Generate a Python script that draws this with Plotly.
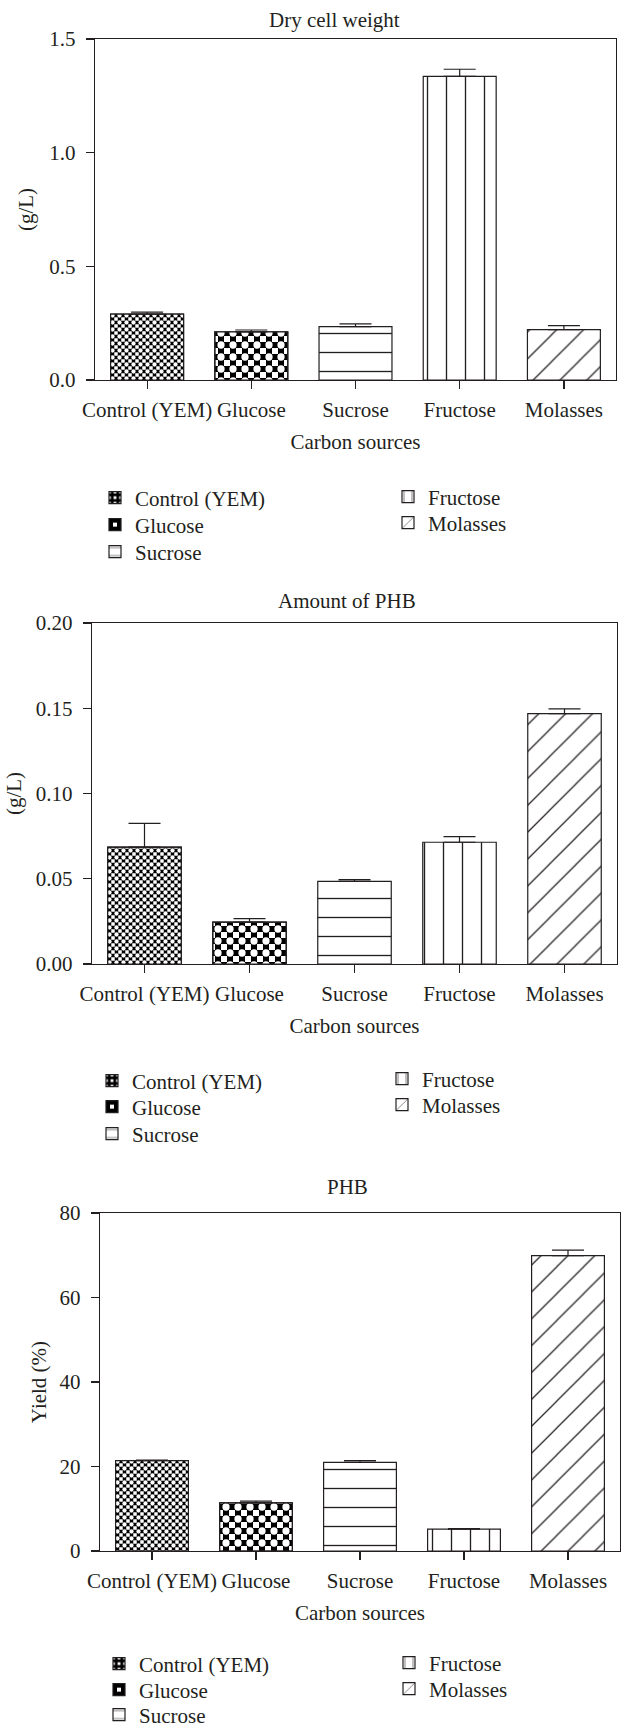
import plotly.graph_objects as go

# ---------------- data ----------------
categories = ["Control (YEM)", "Glucose", "Sucrose", "Fructose", "Molasses"]

dcw_values = [0.290, 0.212, 0.235, 1.336, 0.222]
dcw_errors = [0.009, 0.008, 0.012, 0.031, 0.017]

phb_amount_values = [0.0686, 0.0246, 0.0485, 0.0714, 0.1468]
phb_amount_errors = [0.0139, 0.0020, 0.0010, 0.0033, 0.0028]

phb_yield_values = [21.4, 11.4, 21.0, 5.2, 69.9]
phb_yield_errors = [0.1, 0.4, 0.4, 0.1, 1.3]

panel_titles = ["Dry cell weight", "Amount of PHB", "PHB"]
y_titles = ["(g/L)", "(g/L)", "Yield (%)"]
x_title = "Carbon sources"
y_ranges = [[0, 1.5], [0, 0.20], [0, 80]]
y_dticks = [0.5, 0.05, 20]
y_formats = [".1f", ".2f", ".0f"]

# ---------------- styling ----------------
W, H = 621, 1728
FONT = "Liberation Serif, Times New Roman, serif"
TXT = "#231f20"
EDGE = "#231f20"
FS = 21
LFS = 21

# pixel geometry of the three plot frames (left, right, top, bottom)
frames = [(95, 616, 39, 380), (92, 617, 623, 964), (100, 620, 1213, 1551)]
title_pos = [(335, 20), (347, 601), (347, 1187)]
y_title_standoff = [10, 8, 7]
# legend layout per panel: column left edges and row centres (px)
legend_cols = [(95, 388), (92, 382), (99, 389)]
legend_rows = [((498, 525, 552), (497, 523)),
               ((1081, 1107, 1134), (1079, 1105)),
               ((1664, 1690, 1715), (1663, 1689))]

# pattern per category: ("checker", tile) or (shape, size, solidity)
patterns = [("checker", 7), ("checker", 12), ("-", 19, 0.07), ("|", 19, 0.07), ("/", 19, 0.065)]


def px_x(p):
    return p / W


def px_y(p):
    return 1 - p / H


panels = [(dcw_values, dcw_errors), (phb_amount_values, phb_amount_errors),
          (phb_yield_values, phb_yield_errors)]

fig = go.Figure()
BAR_W = 0.70

for p, (vals, errs) in enumerate(panels):
    xa = "x" if p == 0 else f"x{p + 1}"
    ya = "y" if p == 0 else f"y{p + 1}"
    for i, cat in enumerate(categories):
        lg_idx = 5 * p + i + 1
        lg = "legend" if lg_idx == 1 else f"legend{lg_idx}"
        err = dict(type="data", array=[errs[i]], arrayminus=[0], symmetric=False,
                   color=EDGE, thickness=1.2, width=16)
        pat = patterns[i]
        if pat[0] == "checker":
            tile = pat[1]
            # base: black cross mesh on white
            fig.add_trace(go.Bar(
                x=[cat], y=[vals[i]], width=BAR_W, name=cat, legend=lg,
                xaxis=xa, yaxis=ya, showlegend=True,
                marker=dict(color="white", line=dict(color=EDGE, width=1.2),
                            pattern=dict(shape="+", size=tile, solidity=0.75,
                                         fgcolor="black", bgcolor="white",
                                         fillmode="replace")),
                hoverinfo="skip"))
            # white dots punching out the cross centres -> checkerboard look
            fig.add_trace(go.Bar(
                x=[cat], y=[vals[i]], width=BAR_W, name=cat, legend=lg,
                xaxis=xa, yaxis=ya, showlegend=False,
                marker=dict(color="rgba(0,0,0,0)", line=dict(width=0),
                            pattern=dict(shape=".", size=tile, solidity=0.29,
                                         fgcolor="white", bgcolor="rgba(0,0,0,0)",
                                         fillmode="replace")),
                hoverinfo="skip"))
            # outline + error bar on top
            fig.add_trace(go.Bar(
                x=[cat], y=[vals[i]], width=BAR_W, name=cat, legend=lg,
                xaxis=xa, yaxis=ya, showlegend=False,
                marker=dict(color="rgba(0,0,0,0)", line=dict(color=EDGE, width=1.2)),
                error_y=err))
        else:
            shape, size, sol = pat
            fig.add_trace(go.Bar(
                x=[cat], y=[vals[i]], width=BAR_W, name=cat, legend=lg,
                xaxis=xa, yaxis=ya, showlegend=True,
                marker=dict(color="white", line=dict(color=EDGE, width=1.2),
                            pattern=dict(shape=shape, size=size, solidity=sol,
                                         fgcolor=EDGE, bgcolor="white",
                                         fillmode="replace")),
                error_y=err))

layout = dict(
    width=W, height=H, autosize=False,
    margin=dict(l=0, r=0, t=0, b=0, pad=0, autoexpand=False),
    paper_bgcolor="white", plot_bgcolor="white",
    barmode="overlay",
    font=dict(family=FONT, size=FS, color=TXT),
    annotations=[],
)

for p in range(3):
    l, r, t, b = frames[p]
    sfx = "" if p == 0 else str(p + 1)
    layout["xaxis" + sfx] = dict(
        domain=[px_x(l), px_x(r)], anchor="y" + sfx, automargin=False,
        type="category", categoryorder="array", categoryarray=categories,
        range=[-0.5, 4.5],
        showline=True, mirror=True, linecolor=EDGE, linewidth=1.2,
        ticks="outside", ticklen=8, tickwidth=1.2, tickcolor=EDGE,
        ticklabelstandoff=3,
        tickfont=dict(family=FONT, size=FS, color=TXT),
        showgrid=False, zeroline=False, fixedrange=True,
        title=dict(text=x_title, standoff=12, font=dict(family=FONT, size=FS, color=TXT)),
    )
    layout["yaxis" + sfx] = dict(
        domain=[px_y(b), px_y(t)], anchor="x" + sfx, automargin=False,
        range=y_ranges[p], dtick=y_dticks[p], tick0=0, tickformat=y_formats[p],
        showline=True, mirror=True, linecolor=EDGE, linewidth=1.2,
        ticks="outside", ticklen=8, tickwidth=1.2, tickcolor=EDGE,
        ticklabelstandoff=6,
        tickfont=dict(family=FONT, size=FS, color=TXT),
        showgrid=False, zeroline=False, fixedrange=True,
        title=dict(text=y_titles[p], standoff=y_title_standoff[p],
                   font=dict(family=FONT, size=FS, color=TXT)),
    )
    cx, cy = title_pos[p]
    layout["annotations"].append(dict(
        text=panel_titles[p], x=px_x(cx), y=px_y(cy), xref="paper", yref="paper",
        xanchor="center", yanchor="middle", showarrow=False,
        font=dict(family=FONT, size=FS, color=TXT)))
    for i in range(5):
        col = 0 if i < 3 else 1
        row = i if i < 3 else i - 3
        lx = legend_cols[p][col]
        ly = legend_rows[p][col][row]
        idx = 5 * p + i + 1
        key = "legend" if idx == 1 else f"legend{idx}"
        layout[key] = dict(
            x=px_x(lx), y=px_y(ly), xanchor="left", yanchor="middle",
            orientation="v", bgcolor="rgba(0,0,0,0)",
            borderwidth=0, font=dict(family=FONT, size=LFS, color=TXT),
            itemclick=False, itemdoubleclick=False)

fig.update_layout(**layout)

fig.write_html(
    "out.html",
    config={"displayModeBar": False, "staticPlot": True},
    post_script="document.body.style.margin='0';",
)
